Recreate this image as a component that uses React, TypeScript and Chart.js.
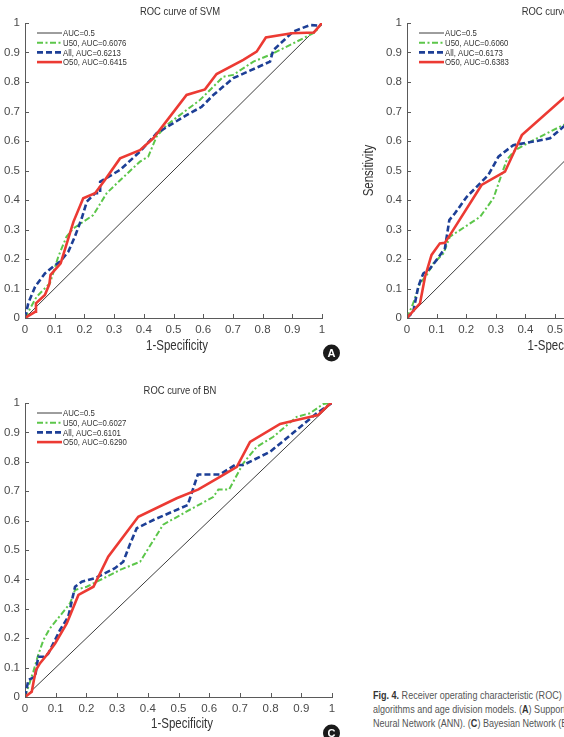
import React, { useEffect, useRef } from "react";
import { Chart, registerables } from "chart.js";

Chart.register(...registerables);

// ---- tick labels ----
const X_TICK_LABELS = ["0", "0.1", "0.2", "0.3", "0.4", "0.5", "0.6", "0.7", "0.8", "0.9", "1"];
const Y_TICK_LABELS = ["0", "0.1", "0.2", "0.3", "0.4", "0.5", "0.6", "0.7", "0.8", "0.9", "1"];

// ---- legend labels ----
const SVM_LABELS = ["AUC=0.5", "U50, AUC=0.6076", "All, AUC=0.6213", "O50, AUC=0.6415"];
const ANN_LABELS = ["AUC=0.5", "U50, AUC=0.6060", "All, AUC=0.6173", "O50, AUC=0.6383"];
const BN_LABELS = ["AUC=0.5", "U50, AUC=0.6027", "All, AUC=0.6101", "O50, AUC=0.6290"];

type Pt = [number, number]; // [1-specificity, sensitivity]

// reference (chance) line
const CHANCE: Pt[] = [[0, 0], [1, 1]];

// ---- SVM ----
const SVM_U50: Pt[] = [
  [0, 0], [0.039, 0.072], [0.084, 0.118], [0.112, 0.208], [0.14, 0.276], [0.163, 0.304],
  [0.196, 0.326], [0.23, 0.349], [0.275, 0.423], [0.315, 0.462], [0.387, 0.53], [0.415, 0.547],
  [0.443, 0.615], [0.477, 0.654], [0.544, 0.705], [0.589, 0.739], [0.668, 0.818], [0.701, 0.824],
  [0.769, 0.869], [0.825, 0.892], [0.903, 0.931], [0.976, 0.968], [1, 1],
];
const SVM_ALL: Pt[] = [
  [0, 0], [0.011, 0.05], [0.034, 0.106], [0.067, 0.151], [0.095, 0.174], [0.118, 0.191],
  [0.146, 0.225], [0.168, 0.276], [0.191, 0.338], [0.208, 0.394], [0.236, 0.423], [0.253, 0.423],
  [0.253, 0.462], [0.32, 0.502], [0.387, 0.564], [0.443, 0.626], [0.544, 0.688], [0.595, 0.716],
  [0.634, 0.756], [0.701, 0.813], [0.825, 0.869], [0.836, 0.908], [0.903, 0.971], [0.96, 0.993],
  [0.993, 0.991], [1, 1],
];
const SVM_O50: Pt[] = [
  [0, 0], [0.034, 0.021], [0.037, 0.05], [0.067, 0.078], [0.082, 0.115], [0.086, 0.146],
  [0.12, 0.185], [0.163, 0.326], [0.196, 0.406], [0.236, 0.423], [0.269, 0.468], [0.32, 0.541],
  [0.387, 0.569], [0.432, 0.609], [0.544, 0.756], [0.606, 0.775], [0.645, 0.827], [0.735, 0.875],
  [0.78, 0.903], [0.811, 0.951], [0.898, 0.965], [0.973, 0.968], [1, 1],
];

// ---- ANN ----
const ANN_U50: Pt[] = [
  [0, 0], [0.021, 0.05], [0.044, 0.118], [0.067, 0.146], [0.089, 0.185], [0.123, 0.219],
  [0.145, 0.276], [0.179, 0.298], [0.247, 0.343], [0.292, 0.406], [0.325, 0.502], [0.337, 0.536],
  [0.365, 0.569], [0.427, 0.603], [0.528, 0.654], [0.63, 0.71], [0.74, 0.79], [0.85, 0.87],
  [0.94, 0.95], [1, 1],
];
const ANN_ALL: Pt[] = [
  [0, 0], [0.021, 0.021], [0.038, 0.106], [0.055, 0.151], [0.078, 0.168], [0.1, 0.197],
  [0.128, 0.236], [0.143, 0.332], [0.162, 0.355], [0.202, 0.411], [0.275, 0.485], [0.309, 0.547],
  [0.359, 0.586], [0.427, 0.598], [0.483, 0.609], [0.528, 0.648], [0.62, 0.7], [0.72, 0.78],
  [0.83, 0.86], [0.93, 0.95], [1, 1],
];
const ANN_O50: Pt[] = [
  [0, 0], [0.044, 0.05], [0.061, 0.14], [0.083, 0.214], [0.111, 0.253], [0.128, 0.255],
  [0.145, 0.281], [0.252, 0.451], [0.331, 0.496], [0.388, 0.62], [0.528, 0.745], [0.62, 0.8],
  [0.72, 0.85], [0.82, 0.9], [0.92, 0.95], [1, 1],
];

// ---- BN ----
const BN_U50: Pt[] = [
  [0, 0], [0.011, 0.035], [0.027, 0.086], [0.043, 0.143], [0.06, 0.194], [0.081, 0.233],
  [0.147, 0.319], [0.163, 0.364], [0.201, 0.375], [0.266, 0.409], [0.309, 0.432], [0.375, 0.46],
  [0.385, 0.477], [0.45, 0.586], [0.53, 0.633], [0.613, 0.68], [0.63, 0.706], [0.665, 0.706],
  [0.711, 0.795], [0.755, 0.851], [0.809, 0.885], [0.885, 0.953], [0.928, 0.965], [0.972, 0.997],
  [1, 1],
];
const BN_ALL: Pt[] = [
  [0, 0], [0.011, 0.058], [0.033, 0.069], [0.043, 0.137], [0.065, 0.137], [0.076, 0.148],
  [0.114, 0.228], [0.141, 0.273], [0.163, 0.375], [0.185, 0.392], [0.228, 0.404], [0.293, 0.438],
  [0.32, 0.46], [0.342, 0.52], [0.364, 0.574], [0.418, 0.602], [0.53, 0.653], [0.563, 0.757],
  [0.635, 0.757], [0.684, 0.789], [0.711, 0.789], [0.798, 0.834], [0.852, 0.88], [0.95, 0.965],
  [1, 1],
];
const BN_O50: Pt[] = [
  [0, 0], [0.022, 0.018], [0.029, 0.058], [0.036, 0.092], [0.049, 0.115], [0.071, 0.143],
  [0.098, 0.182], [0.136, 0.25], [0.174, 0.347], [0.223, 0.375], [0.271, 0.477], [0.369, 0.613],
  [0.494, 0.676], [0.565, 0.706], [0.635, 0.749], [0.69, 0.783], [0.733, 0.868], [0.831, 0.929],
  [0.885, 0.942], [0.955, 0.959], [0.993, 0.997], [1, 1],
];

// line styles: chance, U50, All, O50
const LINE_STYLES = [
  { color: "#3d3d3d", width: 1, dash: [] as number[] },
  { color: "#5cc64a", width: 2, dash: [6, 2.5, 2, 2.5] },
  { color: "#1d3f96", width: 2.6, dash: [6, 3] },
  { color: "#ec3a33", width: 2.6, dash: [] as number[] },
];
const DRAW_ORDER = [3, 2, 1, 0];

const AXIS_COLOR = "#5a5a5a";
const TEXT_COLOR = "#4a4a4a";
const SANS = '"Liberation Sans", Arial, sans-serif';
const CONDENSE = 0.82; // horizontal squeeze for the condensed face

// condensed text: squeeze horizontally around the anchor point
function narrowText(
  ctx: CanvasRenderingContext2D,
  text: string,
  x: number,
  y: number,
  size: number,
  align: CanvasTextAlign,
  color: string,
  rotate = 0
) {
  ctx.save();
  ctx.translate(x, y);
  if (rotate) ctx.rotate(rotate);
  ctx.scale(CONDENSE, 1);
  ctx.font = `${size}px ${SANS}`;
  ctx.fillStyle = color;
  ctx.textAlign = align;
  ctx.textBaseline = "middle";
  ctx.fillText(text, 0, 0);
  ctx.restore();
}

const decorPlugin = {
  id: "decor",
  afterDraw(chart: any, _args: any, opts: any) {
    const { ctx, chartArea: ca, scales } = chart;
    const xs = scales.x;
    const ys = scales.y;
    ctx.save();

    // inward tick marks
    ctx.strokeStyle = AXIS_COLOR;
    ctx.lineWidth = 1;
    ctx.setLineDash([]);
    ctx.beginPath();
    xs.ticks.forEach((t: any) => {
      const px = Math.round(xs.getPixelForValue(t.value)) + 0.5;
      ctx.moveTo(px, ca.bottom);
      ctx.lineTo(px, ca.bottom - 4);
    });
    ys.ticks.forEach((t: any) => {
      const py = Math.round(ys.getPixelForValue(t.value)) + 0.5;
      ctx.moveTo(ca.left, py);
      ctx.lineTo(ca.left + 4, py);
    });
    ctx.stroke();

    const cx = (ca.left + ca.right) / 2;

    // panel title
    narrowText(ctx, opts.title, cx + opts.titleDx, opts.titleY, 11.5, "center", "#333");

    // axis titles
    narrowText(ctx, "1-Specificity", cx + 3.5, opts.xTitleY, 14, "center", "#333");
    if (opts.yTitle) {
      narrowText(ctx, opts.yTitle, opts.yTitleX, (ca.top + ca.bottom) / 2, 14, "center", "#333", -Math.PI / 2);
    }

    // legend box in the upper-left corner
    const labels: string[] = opts.labels;
    labels.forEach((label, i) => {
      const st = LINE_STYLES[i];
      const y = ca.top + 10 + i * 9.7;
      ctx.strokeStyle = st.color;
      ctx.lineWidth = st.width;
      ctx.setLineDash(st.dash);
      ctx.beginPath();
      ctx.moveTo(ca.left + 12, y);
      ctx.lineTo(ca.left + 37, y);
      ctx.stroke();
      ctx.setLineDash([]);
      narrowText(ctx, label, ca.left + 38, y + 0.5, 9.5, "left", "#333");
    });

    // panel letter badge
    if (opts.badge) {
      const { letter, x, y } = opts.badge;
      ctx.fillStyle = "#1a1a1a";
      ctx.beginPath();
      ctx.arc(x, y, 8.5, 0, Math.PI * 2);
      ctx.fill();
      ctx.fillStyle = "#fff";
      ctx.font = `bold 11px ${SANS}`;
      ctx.textAlign = "center";
      ctx.textBaseline = "middle";
      ctx.fillText(letter, x, y + 0.5);
    }
    ctx.restore();
  },
};

type PanelProps = {
  left: number;
  top: number;
  width: number;
  height: number;
  padTop: number;
  padRight: number;
  yScaleWidth: number;
  xScaleHeight: number;
  xTitleY: number;
  title: string;
  titleDx: number;
  titleY: number;
  labels: string[];
  series: Pt[][];
  yTitle?: string;
  yTitleX?: number;
  badge?: { letter: string; x: number; y: number };
};

function RocPanel(p: PanelProps) {
  const ref = useRef<HTMLCanvasElement | null>(null);

  useEffect(() => {
    if (!ref.current) return;
    const tickFont = { family: SANS, size: 11.5 };
    const chart = new Chart(ref.current, {
      type: "line",
      data: {
        datasets: p.series.map((pts, i) => ({
          label: p.labels[i],
          data: pts.map(([x, y]) => ({ x, y })),
          borderColor: LINE_STYLES[i].color,
          borderWidth: LINE_STYLES[i].width,
          borderDash: LINE_STYLES[i].dash,
          pointRadius: 0,
          tension: 0,
          fill: false,
          order: DRAW_ORDER[i],
        })),
      },
      options: {
        responsive: false,
        animation: false,
        devicePixelRatio: 1,
        layout: { padding: { top: p.padTop, right: p.padRight, left: 0, bottom: 0 } },
        plugins: {
          legend: { display: false },
          tooltip: { enabled: false },
          decor: {
            title: p.title,
            titleDx: p.titleDx,
            titleY: p.titleY,
            xTitleY: p.xTitleY,
            yTitle: p.yTitle,
            yTitleX: p.yTitleX,
            labels: p.labels,
            badge: p.badge,
          },
        } as any,
        scales: {
          x: {
            type: "linear",
            min: 0,
            max: 1,
            ticks: {
              stepSize: 0.1,
              padding: 5,
              autoSkip: false,
              maxRotation: 0,
              font: tickFont,
              color: TEXT_COLOR,
              callback: (_v: any, i: number) => X_TICK_LABELS[i],
            },
            grid: { drawOnChartArea: false, drawTicks: false },
            border: { color: AXIS_COLOR, width: 1 },
            afterFit: (s: any) => {
              s.height = p.xScaleHeight;
            },
          },
          y: {
            type: "linear",
            min: 0,
            max: 1,
            ticks: {
              stepSize: 0.1,
              padding: 5,
              autoSkip: false,
              font: tickFont,
              color: TEXT_COLOR,
              callback: (_v: any, i: number) => Y_TICK_LABELS[i],
            },
            grid: { drawOnChartArea: false, drawTicks: false },
            border: { color: AXIS_COLOR, width: 1 },
            afterFit: (s: any) => {
              s.width = p.yScaleWidth;
            },
          },
        },
      } as any,
      plugins: [decorPlugin],
    });
    return () => chart.destroy();
  }, []);

  return (
    <canvas
      ref={ref}
      width={p.width}
      height={p.height}
      style={{ position: "absolute", left: p.left, top: p.top, width: p.width, height: p.height }}
    />
  );
}

export default function App() {
  return (
    <div
      style={{
        position: "fixed",
        left: 0,
        top: 0,
        width: 564,
        height: 737,
        overflow: "hidden",
        background: "#fff",
      }}
    >
      <RocPanel
        left={0}
        top={0}
        width={360}
        height={365}
        padTop={23}
        padRight={38}
        yScaleWidth={25}
        xScaleHeight={47}
        xTitleY={346}
        title="ROC curve of SVM"
        titleDx={6.5}
        titleY={12}
        labels={SVM_LABELS}
        series={[CHANCE, SVM_U50, SVM_ALL, SVM_O50]}
        badge={{ letter: "A", x: 331.5, y: 353 }}
      />
      <RocPanel
        left={360}
        top={0}
        width={380}
        height={365}
        padTop={23}
        padRight={37}
        yScaleWidth={47}
        xScaleHeight={47}
        xTitleY={346}
        title="ROC curve of ANN"
        titleDx={6.5}
        titleY={12}
        labels={ANN_LABELS}
        series={[CHANCE, ANN_U50, ANN_ALL, ANN_O50]}
        yTitle="Sensitivity"
        yTitleX={9.5}
      />
      <RocPanel
        left={0}
        top={380}
        width={360}
        height={357}
        padTop={23}
        padRight={28}
        yScaleWidth={25}
        xScaleHeight={40}
        xTitleY={344}
        title="ROC curve of BN"
        titleDx={1.5}
        titleY={11}
        labels={BN_LABELS}
        series={[CHANCE, BN_U50, BN_ALL, BN_O50]}
        badge={{ letter: "C", x: 331.5, y: 353 }}
      />
      <div
        style={{
          position: "absolute",
          left: 373,
          top: 688,
          fontFamily: SANS,
          fontSize: 10.5,
          lineHeight: "14px",
          color: "#555",
          whiteSpace: "nowrap",
          transform: "scaleX(0.86)",
          transformOrigin: "0 0",
        }}
      >
        <b style={{ color: "#333" }}>Fig. 4.</b> Receiver operating characteristic (ROC) curves
        <br />
        algorithms and age division models. (<b style={{ color: "#333" }}>A</b>) Support Vector
        <br />
        Neural Network (ANN). (<b style={{ color: "#333" }}>C</b>) Bayesian Network (BN).
      </div>
    </div>
  );
}
